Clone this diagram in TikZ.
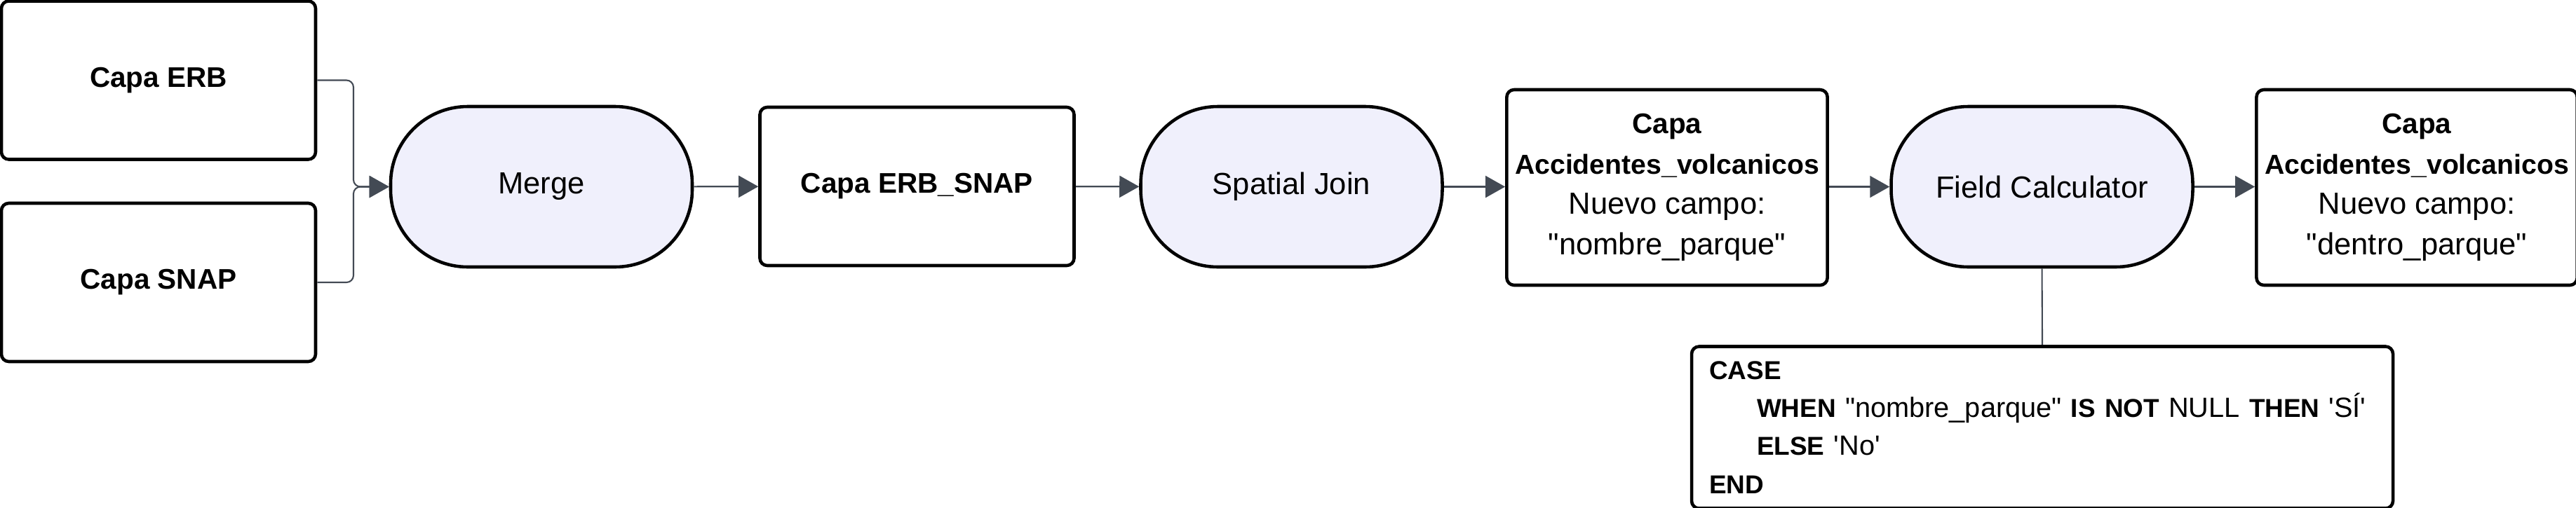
\documentclass[tikz,border=0pt]{standalone}
\usepackage{fontspec}
\setmainfont{Liberation Sans}[BoldFeatures={Scale=0.93}]
\usetikzlibrary{arrows.meta}
\definecolor{lila}{HTML}{F0F0FC}
\definecolor{linea}{HTML}{434A54}

\begin{document}
\begin{tikzpicture}[
      capa/.style={draw, line width=1.3pt, rounded corners=3pt, align=center,
                   font=\fontsize{12.4}{16.4}\selectfont, minimum width=4.48cm, minimum height=2.26cm},
      proceso/.style={draw, line width=1.3pt, fill=lila, rounded corners=1.1cm, align=center,
                      font=\fontsize{12.4}{16.4}\selectfont, minimum width=4.3cm, minimum height=2.29cm},
      codigo/.style={draw, line width=1.3pt, rounded corners=3pt, align=left,
                     font=\fontsize{11.3}{15.4}\selectfont, text width=9.5cm,
                     minimum width=10cm, minimum height=2.31cm},
      flujo/.style={-{Triangle[length=0.28cm, width=0.31cm]}, draw=linea, line width=0.6pt},
      enlace/.style={draw=linea, line width=0.6pt}
    ]
    \useasboundingbox (0,0) rectangle (36.73,-7.24);
    \node[capa]    (erb)     at (2.26,-1.145)   {\textbf{Capa ERB}};
    \node[capa]    (snap)    at (2.26,-4.03)    {\textbf{Capa SNAP}};
    \node[proceso] (merge)   at (7.72,-2.665)   {Merge};
    \node[capa]    (erbsnap) at (13.075,-2.66)  {\textbf{Capa ERB\_SNAP}};
    \node[proceso] (sjoin)   at (18.415,-2.665) {Spatial Join};
    \node[capa, minimum height=2.79cm] (acc) at (23.77,-2.675)
      {\textbf{Capa}\\ {\fontsize{12}{16.4}\selectfont\textbf{Accidentes\_volcanicos}}\\ Nuevo campo:\\ \textquotedbl nombre\_parque\textquotedbl};
    \node[proceso] (fcalc)   at (29.115,-2.665) {Field Calculator};
    \node[capa, minimum height=2.79cm] (accfin) at (34.46,-2.675)
      {\textbf{Capa}\\ {\fontsize{12}{16.4}\selectfont\textbf{Accidentes\_volcanicos}}\\ Nuevo campo:\\ \textquotedbl dentro\_parque\textquotedbl};
    \node[codigo]  (expr)    at (29.12,-6.1)
      {\textbf{CASE}\\
       \hspace*{0.68cm}\textbf{WHEN} \textquotedbl nombre\_parque\textquotedbl{} \textbf{IS NOT} NULL \textbf{THEN} \textquotesingle S\'I\textquotesingle\\
       \hspace*{0.68cm}\textbf{ELSE} \textquotesingle No\textquotesingle\\
       \textbf{END}};

    \coordinate (junta) at (5.04,-2.665);
    \draw[flujo, rounded corners=0.1cm] (erb.east) -| (junta) -- (merge.west);
    \draw[flujo, rounded corners=0.1cm] (snap.east) -| (junta) -- (merge.west);
    \draw[flujo] (merge) -- (erbsnap);
    \draw[flujo] (erbsnap) -- (sjoin);
    \draw[flujo] (sjoin.east) -- (sjoin.east -| acc.west);
    \draw[flujo] (acc.east |- fcalc.east) -- (fcalc.east -| fcalc.west);
    \draw[flujo] (fcalc.east) -- (fcalc.east -| accfin.west);
    \draw[enlace] (fcalc.south) -- (expr.north);
  \end{tikzpicture}
\end{document}
